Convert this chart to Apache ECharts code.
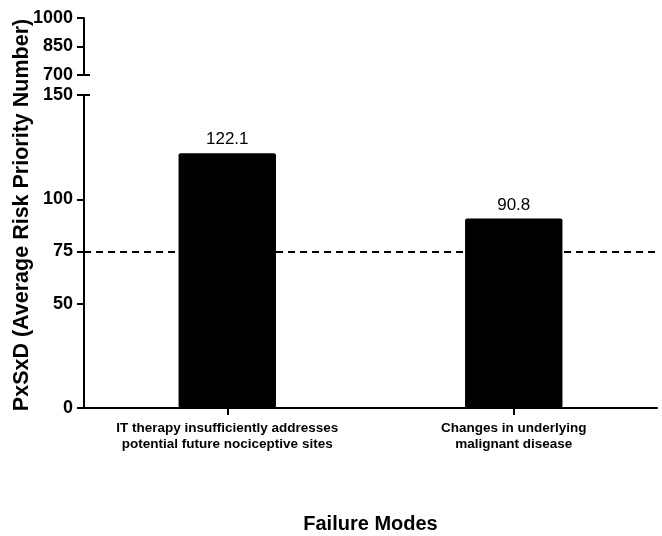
<!DOCTYPE html>
<html><head><meta charset="utf-8">
<script src="https://cdn.jsdelivr.net/npm/echarts@6/dist/echarts.min.js"></script>
<style>html,body{margin:0;padding:0;background:#fff}#c{width:662px;height:536px}</style>
</head><body><div id="c"></div>
<script>
var categories = ['IT therapy insufficiently addresses\npotential future nociceptive sites', 'Changes in underlying\nmalignant disease'];
var values = [122.1, 90.8];
var lowerTicks = [0, 50, 75, 100, 150];
var upperTicks = [700, 850, 1000];
var thresholdValue = 75;
var yTitle = 'PxSxD (Average Risk Priority Number)';
var xTitle = 'Failure Modes';

var FONT = 'Liberation Sans, Arial, sans-serif';
var chart = echarts.init(document.getElementById('c'));
var axisLine = {show: true, lineStyle: {color: '#000', width: 2}};
var axisTick = {show: true, length: 7, lineStyle: {color: '#000', width: 2}};
var tickLabel = {color: '#000', fontFamily: FONT, fontWeight: 'bold', fontSize: 18, margin: 11,
                 formatter: function (v) { return String(v); }};
var LEFT = 84, RIGHT = 5;
chart.setOption({
  animation: false,
  grid: [
    {left: LEFT, right: RIGHT, top: 18, height: 57, containLabel: false, outerBoundsMode: 'none'},
    {left: LEFT, right: RIGHT, top: 95, height: 313, containLabel: false, outerBoundsMode: 'none'}
  ],
  xAxis: [
    {gridIndex: 0, type: 'category', data: categories, show: false},
    {gridIndex: 1, type: 'category', data: categories, boundaryGap: true,
     axisLine: axisLine,
     axisTick: {show: true, alignWithLabel: true, length: 7, lineStyle: {color: '#000', width: 2}},
     axisLabel: {interval: 0, hideOverlap: false, color: '#000', fontFamily: FONT, fontWeight: 'bold', fontSize: 13.5, lineHeight: 16, margin: 12},
     name: xTitle, nameLocation: 'middle', nameGap: 106,
     nameTextStyle: {color: '#000', fontFamily: FONT, fontWeight: 'bold', fontSize: 20}}
  ],
  yAxis: [
    {gridIndex: 0, type: 'value', min: 700, max: 1000,
     axisLine: axisLine, axisTick: Object.assign({}, axisTick, {customValues: upperTicks}),
     axisLabel: Object.assign({}, tickLabel, {customValues: upperTicks}), splitLine: {show: false}},
    {gridIndex: 1, type: 'value', min: 0, max: 150,
     axisLine: axisLine, axisTick: Object.assign({}, axisTick, {customValues: lowerTicks}),
     axisLabel: Object.assign({}, tickLabel, {customValues: lowerTicks}), splitLine: {show: false}}
  ],
  series: [{
    type: 'bar', xAxisIndex: 1, yAxisIndex: 1, data: values, barWidth: '34%',
    itemStyle: {color: '#000', borderRadius: 2},
    label: {show: true, position: 'top', distance: 5, color: '#000', fontFamily: FONT, fontSize: 17,
            formatter: function (p) { return p.value.toFixed(1); }},
    markLine: {silent: true, symbol: 'none', label: {show: false},
      lineStyle: {color: '#000', width: 2, type: [7, 5]},
      data: [{yAxis: thresholdValue}]}
  }]
});
var pTop = chart.convertToPixel({xAxisIndex: 0, yAxisIndex: 0}, [0, 700]);
var pLow = chart.convertToPixel({xAxisIndex: 1, yAxisIndex: 1}, [0, 150]);
var axisX = LEFT;
chart.setOption({
  graphic: [
    {type: 'line', shape: {x1: axisX - 7, y1: pTop[1], x2: axisX + 6, y2: pTop[1]}, style: {stroke: '#000', lineWidth: 2}},
    {type: 'line', shape: {x1: axisX - 7, y1: pLow[1], x2: axisX + 6, y2: pLow[1]}, style: {stroke: '#000', lineWidth: 2}},
    {type: 'text', x: 22, y: 215, rotation: Math.PI / 2,
     style: {text: yTitle, fill: '#000', font: 'bold 21.5px ' + FONT, align: 'center', verticalAlign: 'middle'}}
  ]
});
</script></body></html>
